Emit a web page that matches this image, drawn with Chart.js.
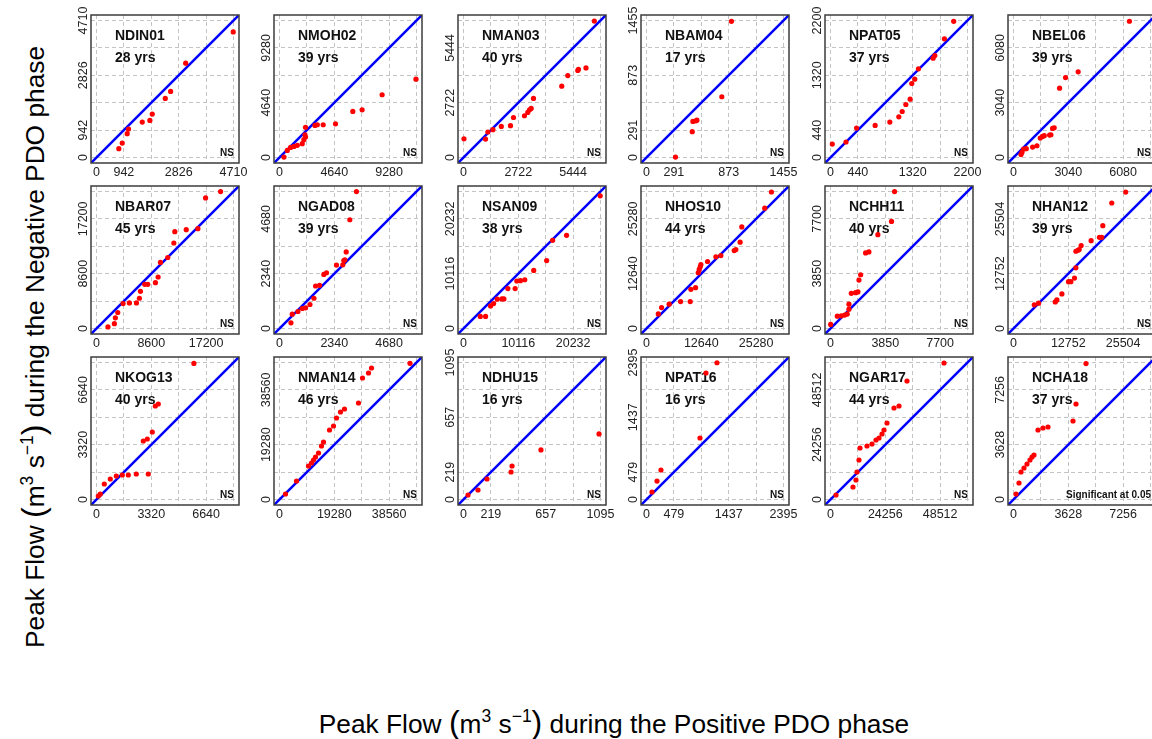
<!DOCTYPE html>
<html>
<head>
<meta charset="utf-8">
<script src="https://cdn.jsdelivr.net/npm/chart.js@4.4.0/dist/chart.umd.min.js"></script>
<style>
  body { margin: 0; background: #fff; width: 1152px; height: 739px; overflow: hidden; position: relative;
         font-family: 'Liberation Sans', Arial, sans-serif; color: #000; }
  .panel { position: absolute; }
  .title { position: absolute; font-size: 26.3px; white-space: nowrap; text-align: center; line-height: 34px; }
  .title sup { font-size: 17.5px; vertical-align: 11px; line-height: 0; }
  .title .par { font-size: 32px; }
  #xtitle { left: 214px; top: 705px; width: 800px; height: 34px; }
  #ytitle { left: -367px; top: 330px; width: 800px; height: 34px; transform: rotate(-90deg); }
</style>
</head>
<body>
<div id="xtitle" class="title">Peak Flow <span class="par">(</span>m<sup>3</sup> s<sup>−1</sup><span class="par">)</span> during the Positive PDO phase</div>
<div id="ytitle" class="title">Peak Flow <span class="par">(</span>m<sup>3</sup> s<sup>−1</sup><span class="par">)</span> during the Negative PDO phase</div>
<script>
// Stations, record length and axis extent (upper grid line) for each panel
const stations = ['NDIN01', 'NMOH02', 'NMAN03', 'NBAM04', 'NPAT05', 'NBEL06',
                  'NBAR07', 'NGAD08', 'NSAN09', 'NHOS10', 'NCHH11', 'NHAN12',
                  'NKOG13', 'NMAN14', 'NDHU15', 'NPAT16', 'NGAR17', 'NCHA18'];
const recordYears = [28, 39, 40, 17, 37, 39, 45, 39, 38, 44, 40, 39, 40, 46, 16, 16, 44, 37];
const axisMax = [4710, 11600, 6805, 1455, 2200, 7600, 21500, 5850, 25290, 31600, 9625, 31880,
                 8300, 48200, 1095, 2395, 60640, 9070];
const significance = ['NS', 'NS', 'NS', 'NS', 'NS', 'NS', 'NS', 'NS', 'NS', 'NS', 'NS', 'NS',
                      'NS', 'NS', 'NS', 'NS', 'NS', 'Significant at 0.05'];

// Tick labels printed on both axes
const tickLabels = [
  [0, 942, 2826, 4710], [0, 4640, 9280], [0, 2722, 5444], [0, 291, 873, 1455], [0, 440, 1320, 2200], [0, 3040, 6080],
  [0, 8600, 17200], [0, 2340, 4680], [0, 10116, 20232], [0, 12640, 25280], [0, 3850, 7700], [0, 12752, 25504],
  [0, 3320, 6640], [0, 19280, 38560], [0, 219, 657, 1095], [0, 479, 1437, 2395], [0, 24256, 48512], [0, 3628, 7256]
];

// Peak flow during the positive PDO phase (x) ...
const positivePhase = [
  [768, 885, 1056, 1102, 1573, 1836, 1917, 2364, 2548, 3066, 4700],
  [380, 661, 940, 1230, 1508, 1926, 2065, 2204, 2158, 2204, 3004, 3202, 3700, 4744, 6206, 6995, 8688, 11554],
  [25, 1096, 1211, 1463, 1878, 2334, 2484, 3028, 3192, 3280, 3362, 3477, 4879, 5179, 5675, 5709, 6084, 6499],
  [308, 486, 493, 525, 535, 800, 902],
  [29, 249, 419, 717, 953, 1097, 1151, 1210, 1279, 1305, 1353, 1412, 1648, 1675, 1829, 1978],
  [418, 472, 563, 710, 1061, 1301, 1484, 1613, 1707, 2002, 2076, 2168, 2259, 2555, 2888, 3588, 6431],
  [1800, 2808, 2963, 3338, 4174, 5163, 6271, 6734, 6895, 7574, 8042, 9253, 9671, 10034, 11183, 12137, 12290, 14080, 15910, 17116, 19470],
  [490, 545, 787, 974, 1116, 1301, 1470, 1541, 1711, 1894, 2007, 2433, 2704, 2746, 2789, 2848, 3003, 3286],
  [3101, 4077, 5000, 5559, 6232, 7089, 7457, 8191, 9537, 9843, 10516, 11312, 12964, 15351, 16452, 19022, 25230],
  [2724, 3478, 5230, 7861, 10087, 10241, 11316, 11931, 12161, 12392, 12546, 14082, 16002, 17154, 20226, 20610, 21593, 21977, 27276, 28812],
  [12, 482, 763, 994, 1180, 1297, 1297, 1462, 1764, 1927, 2000, 2117, 2467, 2699, 3329, 4287, 4500],
  [4836, 5836, 9713, 10101, 11261, 12808, 13355, 14200, 14515, 14515, 14977, 15285, 15745, 18067, 20000, 20540, 20778, 22865, 26108],
  [109, 230, 473, 836, 1200, 1563, 1927, 2411, 3138, 2835, 3078, 3381, 3563, 3744, 5900],
  [2110, 5981, 10203, 11258, 11962, 12666, 13721, 14777, 15480, 17591, 18998, 20054, 21461, 22869, 27794, 29202, 31313, 32368, 45900],
  [36, 116, 188, 380, 388, 619, 1083],
  [96, 184, 253, 935, 1040, 1232],
  [2434, 9959, 11287, 11729, 12615, 13057, 16156, 18369, 20140, 21468, 22795, 23681, 25009, 28107, 30320, 33861, 50238],
  [166, 364, 497, 695, 894, 1092, 1225, 1357, 1622, 1953, 2284, 3939, 4138, 4800]
];

// ... and during the negative PDO phase (y), same years in the same order
const negativePhase = [
  [303, 498, 818, 979, 1217, 1275, 1492, 2030, 2270, 3241, 4315],
  [40, 603, 858, 940, 1032, 1172, 1508, 1728, 1926, 2552, 2714, 2772, 2772, 2854, 3898, 4037, 5313, 6635],
  [932, 918, 1266, 1381, 1545, 1579, 1987, 2075, 2239, 2368, 2436, 2933, 3545, 4069, 4321, 4382, 4450, 6778],
  [5, 274, 383, 390, 397, 645, 1446],
  [216, 249, 473, 515, 569, 654, 739, 851, 937, 1188, 1258, 1424, 1595, 1637, 1905, 2187],
  [162, 289, 471, 488, 580, 653, 1080, 1172, 1209, 1245, 1264, 1613, 1650, 3843, 4436, 4750, 7556],
  [243, 758, 1683, 2511, 3914, 4017, 4017, 4747, 5842, 6935, 6935, 7194, 8082, 10369, 11146, 13419, 15194, 15505, 15661, 20488, 21480],
  [245, 613, 726, 854, 883, 1025, 1293, 1815, 1844, 2311, 2381, 2707, 2721, 2903, 2932, 3271, 4643, 5845],
  [2227, 2227, 4176, 4598, 5410, 5466, 5466, 7364, 7364, 8766, 8821, 9001, 10713, 12547, 16280, 17199, 24493],
  [3370, 4840, 5609, 6211, 6211, 9046, 9427, 12863, 13630, 14231, 14768, 15453, 16522, 16829, 17983, 18213, 19900, 23416, 27749, 31480],
  [290, 870, 893, 941, 1014, 1359, 1708, 2471, 2518, 2567, 3404, 3778, 5310, 5380, 6590, 7520, 9615],
  [5503, 5894, 6198, 6654, 8042, 10892, 10892, 11745, 14130, 17976, 18200, 18360, 19290, 20446, 21221, 21221, 23933, 29198, 31750],
  [212, 333, 939, 1242, 1424, 1484, 1484, 1545, 1545, 3544, 3665, 4089, 5665, 5786, 8240],
  [1935, 6509, 11786, 12842, 13897, 14952, 16360, 18822, 20230, 24452, 25859, 28674, 30785, 31840, 33951, 42747, 44506, 46265, 47900],
  [36, 76, 164, 220, 268, 396, 524],
  [131, 323, 516, 1075, 2211, 2390],
  [1992, 5533, 8631, 12172, 17484, 22795, 23681, 24566, 26336, 27222, 28993, 30763, 33862, 40501, 41386, 52451, 60400],
  [364, 1092, 1821, 2085, 2350, 2615, 2814, 2946, 4601, 4734, 4800, 5197, 6322, 9000]
];

// Panel geometry: plot box size and top-left corner of the first box
const BOX = 148;
const COL_STEP = 183.5, ROW_STEP = 171;
const FIRST_LEFT = 90.5, FIRST_TOP = 15;
const AXIS_W = 30, AXIS_H = 22, PAD_TOP = 14, PAD_RIGHT = 18;
const TICK_FONT = { family: "'Liberation Sans', Arial, sans-serif", size: 12.5 };

const measureCtx = document.createElement('canvas').getContext('2d');
measureCtx.font = "12.5px 'Liberation Sans', Arial, sans-serif";

// Frame round the plot region, drawn last
const framePlugin = {
  id: 'frame',
  afterDraw(chart) {
    const { ctx, chartArea: a } = chart;
    ctx.save();
    ctx.strokeStyle = '#3c3c3c';
    ctx.lineWidth = 1.5;
    ctx.strokeRect(a.left, a.top, a.right - a.left, a.bottom - a.top);
    ctx.restore();
  }
};

// Station name, record length and test result inside each panel
const panelTextPlugin = {
  id: 'panelText',
  beforeDatasetsDraw(chart, args, opts) {
    const { ctx, chartArea: a } = chart;
    ctx.save();
    ctx.fillStyle = '#111';
    ctx.textBaseline = 'middle';
    ctx.font = "bold 14px 'Liberation Sans', Arial, sans-serif";
    ctx.fillText(opts.name, a.left + 24, a.top + 21);
    ctx.fillText(opts.years + ' yrs', a.left + 24, a.top + 43);
    ctx.font = "bold 10px 'Liberation Sans', Arial, sans-serif";
    ctx.textAlign = 'right';
    ctx.fillText(opts.note, a.right - 5, a.bottom - 10);
    ctx.restore();
  }
};

function makeScale(i, vertical) {
  const max = axisMax[i];
  const step = max / 5;
  const lo = -0.04 * max, hi = 1.04 * max;
  const shown = tickLabels[i];
  const widest = Math.max(...shown.map(v => measureCtx.measureText(String(v)).width));
  return {
    type: 'linear',
    min: lo,
    max: hi,
    afterBuildTicks: scale => {
      scale.ticks = [0, 1, 2, 3, 4, 5].map(k => ({ value: Math.round(k * step) }));
    },
    afterFit: scale => {
      if (vertical) scale.width = AXIS_W; else scale.height = AXIS_H;
    },
    grid: { color: '#c4c4c4', lineWidth: 1, drawTicks: false },
    border: { display: false, dash: [4, 3] },
    ticks: {
      autoSkip: false,
      minRotation: vertical ? 90 : 0,
      maxRotation: vertical ? 90 : 0,
      crossAlign: vertical ? 'center' : 'near',
      padding: vertical ? 7.5 - widest / 2 : 2,
      color: '#222',
      font: TICK_FONT,
      callback: v => (shown.includes(v) ? String(v) : '')
    }
  };
}

function drawPanel(i) {
  const col = i % 6, row = Math.floor(i / 6);
  const boxLeft = FIRST_LEFT + col * COL_STEP;
  const boxTop = FIRST_TOP + row * ROW_STEP;

  const canvas = document.createElement('canvas');
  canvas.className = 'panel';
  canvas.width = AXIS_W + BOX + PAD_RIGHT;
  canvas.height = PAD_TOP + BOX + AXIS_H;
  canvas.style.left = (boxLeft - AXIS_W) + 'px';
  canvas.style.top = (boxTop - PAD_TOP) + 'px';
  document.body.appendChild(canvas);

  const lo = -0.04 * axisMax[i], hi = 1.04 * axisMax[i];
  const points = positivePhase[i].map((x, k) => ({ x, y: negativePhase[i][k] }));

  new Chart(canvas, {
    type: 'scatter',
    data: {
      datasets: [
        {
          // 1:1 line
          data: [{ x: lo, y: lo }, { x: hi, y: hi }],
          showLine: true,
          borderColor: '#0000ff',
          borderWidth: 2.5,
          pointRadius: 0,
          order: 1
        },
        {
          data: points,
          backgroundColor: '#ff0000',
          borderWidth: 0,
          pointRadius: 2.6,
          order: 0
        }
      ]
    },
    options: {
      responsive: false,
      animation: false,
      events: [],
      layout: { padding: { left: 0, right: PAD_RIGHT, top: PAD_TOP, bottom: 0 } },
      plugins: {
        legend: { display: false },
        tooltip: { enabled: false },
        panelText: { name: stations[i], years: recordYears[i], note: significance[i] }
      },
      scales: {
        x: makeScale(i, false),
        y: makeScale(i, true)
      }
    },
    plugins: [panelTextPlugin, framePlugin]
  });
}

stations.forEach((s, i) => drawPanel(i));
</script>
</body>
</html>
